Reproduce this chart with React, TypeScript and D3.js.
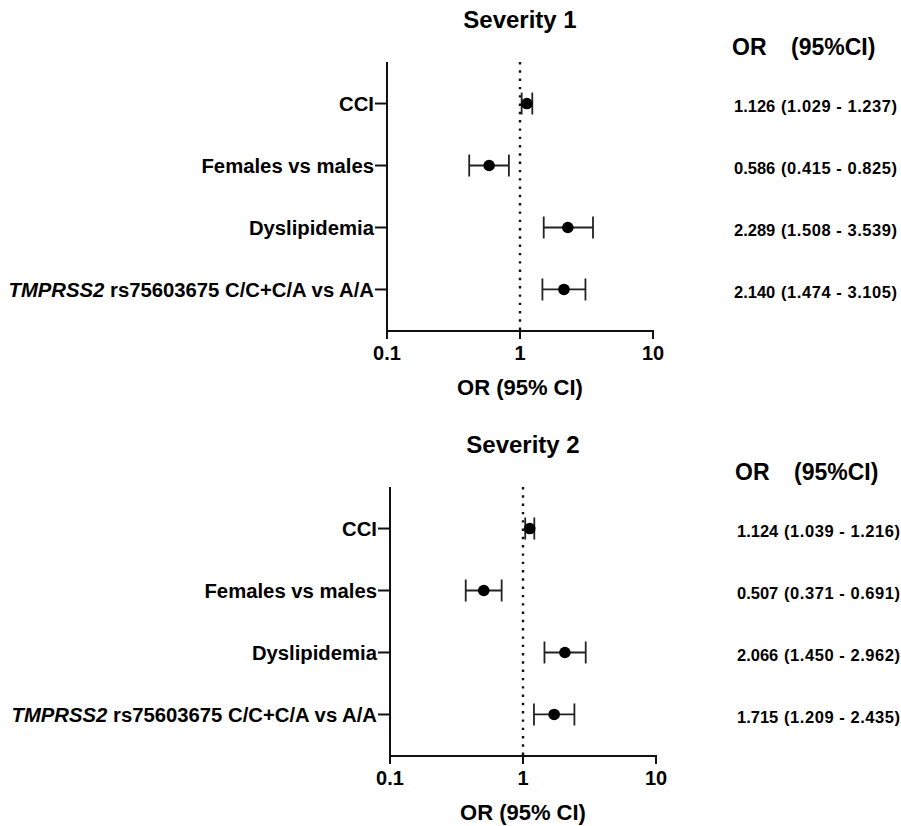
import React from 'react';
import * as d3 from 'd3';

const categories = ['CCI', 'Females vs males', 'Dyslipidemia', 'TMPRSS2'];

// Severity 1
const or1 = [1.126, 0.586, 2.289, 2.14];
const lo1 = [1.029, 0.415, 1.508, 1.474];
const hi1 = [1.237, 0.825, 3.539, 3.105];

// Severity 2
const or2 = [1.124, 0.507, 2.066, 1.715];
const lo2 = [1.039, 0.371, 1.45, 1.209];
const hi2 = [1.216, 0.691, 2.962, 2.435];

const xTicks = [0.1, 1, 10];

const FONT = '"Liberation Sans", Arial, Helvetica, sans-serif';

function Label({ name }: { name: string }) {
  if (name === 'TMPRSS2') {
    return (
      <>
        <tspan fontStyle="italic">TMPRSS2</tspan>
        <tspan> rs75603675 C/C+C/A vs A/A</tspan>
      </>
    );
  }
  return <>{name}</>;
}

function Panel({ title, or, lo, hi, dx, dy }: any) {
  const x = d3.scaleLog().domain([0.1, 10]).range([387, 653]);
  const y = d3.scaleLinear().domain([0.33, 4.67]).range([62, 331]);
  const y0 = y(4.67);
  const y1 = y(0.33);
  const fmt = (v: number) => v.toFixed(3);

  return (
    <g transform={`translate(${dx},${dy})`}>
      <text x={x(1)} y={28} textAnchor="middle" fontSize={24} fontWeight="bold">
        {title}
      </text>
      <text x={732} y={55} fontSize={23} fontWeight="bold">OR</text>
      <text x={791} y={55} fontSize={23} fontWeight="bold">(95%CI)</text>

      {/* reference line at OR = 1 */}
      <line x1={x(1)} x2={x(1)} y1={y1} y2={y0} stroke="#111" strokeWidth={2.4}
        strokeDasharray="2.4 5.9" />

      {/* axes */}
      <line x1={x(0.1)} x2={x(0.1)} y1={y1} y2={y0 + 1} stroke="#111" strokeWidth={2} />
      <line x1={x(0.1) - 1} x2={x(10) + 1} y1={y0} y2={y0} stroke="#111" strokeWidth={2} />
      {xTicks.map(t => (
        <g key={t}>
          <line x1={x(t)} x2={x(t)} y1={y0} y2={y0 + 8} stroke="#111" strokeWidth={2} />
          <text x={x(t)} y={y0 + 29} textAnchor="middle" fontSize={20} fontWeight="bold">
            {t}
          </text>
        </g>
      ))}
      <text x={x(1)} y={y0 + 64} textAnchor="middle" fontSize={22} fontWeight="bold">
        OR (95% CI)
      </text>

      {categories.map((c, i) => {
        const cy = y(i + 1);
        return (
          <g key={c}>
            <line x1={x(0.1) - 12} x2={x(0.1)} y1={cy} y2={cy} stroke="#111" strokeWidth={2} />
            <text x={x(0.1) - 13} y={cy} dy="0.35em" textAnchor="end" fontSize={20.3}
              fontWeight="bold">
              <Label name={c} />
            </text>
            <line x1={x(lo[i])} x2={x(hi[i])} y1={cy} y2={cy} stroke="#222" strokeWidth={1.8} />
            <line x1={x(lo[i])} x2={x(lo[i])} y1={cy - 11} y2={cy + 11} stroke="#222"
              strokeWidth={1.8} />
            <line x1={x(hi[i])} x2={x(hi[i])} y1={cy - 11} y2={cy + 11} stroke="#222"
              strokeWidth={1.8} />
            <circle cx={x(or[i])} cy={cy} r={5.8} fill="#000" />
            <text x={734} y={cy + 3} dy="0.35em" fontSize={16.5} fontWeight="bold">
              {fmt(or[i])}
            </text>
            <text x={781} y={cy + 3} dy="0.35em" fontSize={16.5} fontWeight="bold"
              textLength={116} lengthAdjust="spacing">
              {`(${fmt(lo[i])} - ${fmt(hi[i])})`}
            </text>
          </g>
        );
      })}
    </g>
  );
}

export default function App() {
  return (
    <svg width={901} height={826} fontFamily={FONT}
      style={{ position: 'absolute', left: 0, top: 0, background: '#fff' }}>
      <rect width={901} height={826} fill="#fff" />
      <Panel title="Severity 1" or={or1} lo={lo1} hi={hi1} dx={0} dy={0} />
      <Panel title="Severity 2" or={or2} lo={lo2} hi={hi2} dx={3} dy={425} />
    </svg>
  );
}
